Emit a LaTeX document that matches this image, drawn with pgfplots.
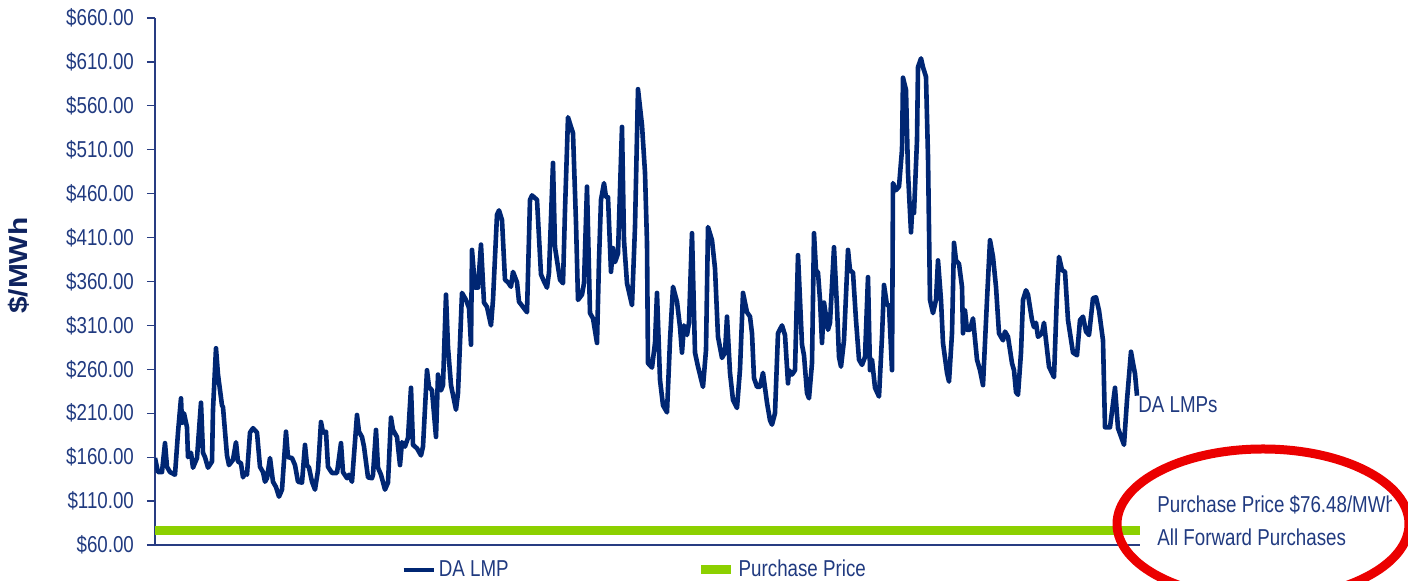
\documentclass[border=0pt]{standalone}
\usepackage{pgfplots}
\pgfplotsset{compat=1.18}
\usepackage{fontspec}
\setmainfont{Liberation Sans}[FakeStretch=0.815]
\newfontfamily\labfont{Liberation Sans}[FakeStretch=1.15]
\newcommand\mf{\fontsize{11.5}{13.8}\selectfont}
\definecolor{navy}{RGB}{0,38,115}
\definecolor{ticknavy}{RGB}{32,58,128}
\definecolor{labnavy}{RGB}{15,35,95}
\definecolor{axisblue}{RGB}{40,60,130}
\definecolor{lime}{RGB}{140,208,0}
\definecolor{ellred}{RGB}{235,0,0}
\pgfplotstableread{
x y
155 159
158 143
162 143
165 176
167 149
170 143
175 140
178 188
181 227
182 199
184 210
187 194
188 160
191 165
193 148
197 159
201 222
203 165
205 160
208 148
212 155
213 214
216 284
218 254
222 219
223 217
227 162
229 151
233 157
236 177
238 155
241 153
243 137
245 142
247 140
250 188
253 193
257 188
260 149
263 143
265 132
267 136
270 159
273 132
276 126
279 115
282 123
286 189
288 160
292 159
295 151
298 132
302 131
305 174
307 151
309 148
312 132
315 123
318 145
321 200
323 188
326 189
328 149
332 142
337 142
341 176
343 143
347 136
349 140
352 132
357 208
359 189
362 183
364 172
368 137
372 136
373 140
376 191
378 148
381 140
385 123
388 131
391 205
393 191
397 183
400 151
402 177
405 172
408 182
411 239
413 174
417 170
421 162
423 172
427 259
429 240
432 236
436 183
438 254
441 236
443 242
446 345
448 285
451 242
456 214
458 233
462 347
466 339
469 330
471 288
472 396
475 353
478 353
481 402
484 336
487 331
491 310
493 339
497 436
499 441
502 430
505 362
508 359
511 354
513 371
517 359
519 337
523 331
527 325
530 453
532 458
537 453
541 368
544 360
547 353
549 370
553 495
555 399
557 384
560 362
563 358
565 441
568 547
571 536
573 529
576 427
578 339
582 345
584 358
587 468
590 324
593 318
597 290
599 384
601 453
604 472
606 456
608 456
611 371
613 398
615 382
618 392
622 536
624 407
627 358
632 333
635 422
638 579
642 538
645 484
647 404
648 267
652 262
655 290
657 347
660 248
663 219
667 211
670 293
673 354
677 337
680 308
682 279
684 310
687 299
689 313
692 415
695 279
698 263
703 240
706 282
708 422
712 407
715 375
718 297
722 273
725 279
727 320
730 256
733 225
737 216
740 260
743 347
747 325
750 320
752 301
754 250
757 240
760 240
763 256
767 222
770 202
772 197
775 210
778 301
782 310
785 299
788 244
789 259
792 254
795 259
798 390
802 288
804 276
807 233
809 227
812 267
814 415
816 373
818 370
820 339
822 290
824 336
828 305
830 313
834 399
837 331
839 274
841 263
844 293
848 396
850 373
853 370
856 316
859 271
862 265
865 274
868 365
870 259
872 271
875 239
879 229
882 297
884 356
887 333
889 333
892 259
893 472
896 464
899 468
902 510
903 592
906 578
908 484
911 416
912 438
914 438
917 521
918 604
921 614
923 604
926 593
928 502
930 339
933 324
936 339
938 384
941 339
943 290
947 256
949 246
952 301
954 404
956 384
959 380
962 354
963 301
965 327
967 305
970 305
973 318
977 271
980 259
983 242
987 339
990 407
993 388
996 354
999 301
1003 293
1005 303
1008 297
1012 267
1014 259
1016 234
1018 231
1021 279
1023 339
1026 350
1028 345
1032 316
1034 308
1036 313
1038 297
1042 301
1044 313
1046 293
1049 263
1054 251
1057 347
1059 388
1062 373
1065 371
1068 316
1073 279
1077 276
1080 316
1083 320
1086 303
1089 299
1093 341
1096 342
1099 327
1103 293
1105 194
1110 194
1115 239
1118 193
1124 174
1127 225
1131 280
1133 267
1135 255
1137 230
}\lmp
\begin{document}
\begin{tikzpicture}
\path[use as bounding box] (-77.5pt,-18pt) rectangle (626.5pt,272.5pt);
\clip (-77.5pt,-18pt) rectangle (626.5pt,272.5pt);
\begin{axis}[
  scale only axis, width=492.5pt, height=263.5pt,
  xmin=155, xmax=1140, ymin=60, ymax=660,
  axis lines*=left,
  axis line style={axisblue, line width=0.7pt},
  xtick=\empty,
  ytick={60,110,...,660},
  tick align=outside, major tick length=4pt,
  y tick style={axisblue, line width=0.6pt},
  /pgf/number format/assume math mode=true,
  yticklabel={\$\pgfmathprintnumber[fixed,fixed zerofill,precision=2]{\tick}},
  yticklabel style={font=\mf, text=ticknavy, xshift=-3pt},
  ylabel={\$/MWh},
  ylabel style={at={(axis description cs:-0.138,0.53)}, anchor=center, font=\labfont\bfseries\fontsize{13}{15}\selectfont, text=labnavy},
  legend columns=2,
  legend style={draw=none, fill=none, at={(axis description cs:0.2497,-0.0474)}, anchor=west, inner sep=0pt,
    nodes={inner sep=0pt, font=\mf, text=ticknavy},
    /tikz/every odd column/.append style={column sep=1.5pt},
    /tikz/every even column/.append style={column sep=94pt}},
  legend image code/.code={\draw[#1] (0pt,0pt) -- (15pt,0pt);},
]
\addplot[navy, line width=2.3pt, line join=round, no markers] table {\lmp};
\addlegendentry{DA LMP}
\addplot[lime, line width=4.5pt, no markers] coordinates {(155,76.48) (1140,76.48)};
\addlegendentry{Purchase Price}
\end{axis}
\begin{scope}[x=0.5pt, y=-0.5pt, shift={(-77.5pt,272.5pt)}]
\node[anchor=west, inner sep=0pt, font=\mf, text=ticknavy] at (1138,405) {DA LMPs};
\begin{scope}
\clip (1100,480) rectangle (1391,520);
\node[anchor=west, inner sep=0pt, font=\mf, text=ticknavy] at (1157,505) {Purchase Price \$76.48/MWh};
\end{scope}
\node[anchor=west, inner sep=0pt, font=\mf, text=ticknavy] at (1157,537) {All Forward Purchases};
\draw[ellred, line width=4.5pt] (1263,524) ellipse [x radius=73pt, y radius=37.5pt];
\end{scope}
\end{tikzpicture}
\end{document}
